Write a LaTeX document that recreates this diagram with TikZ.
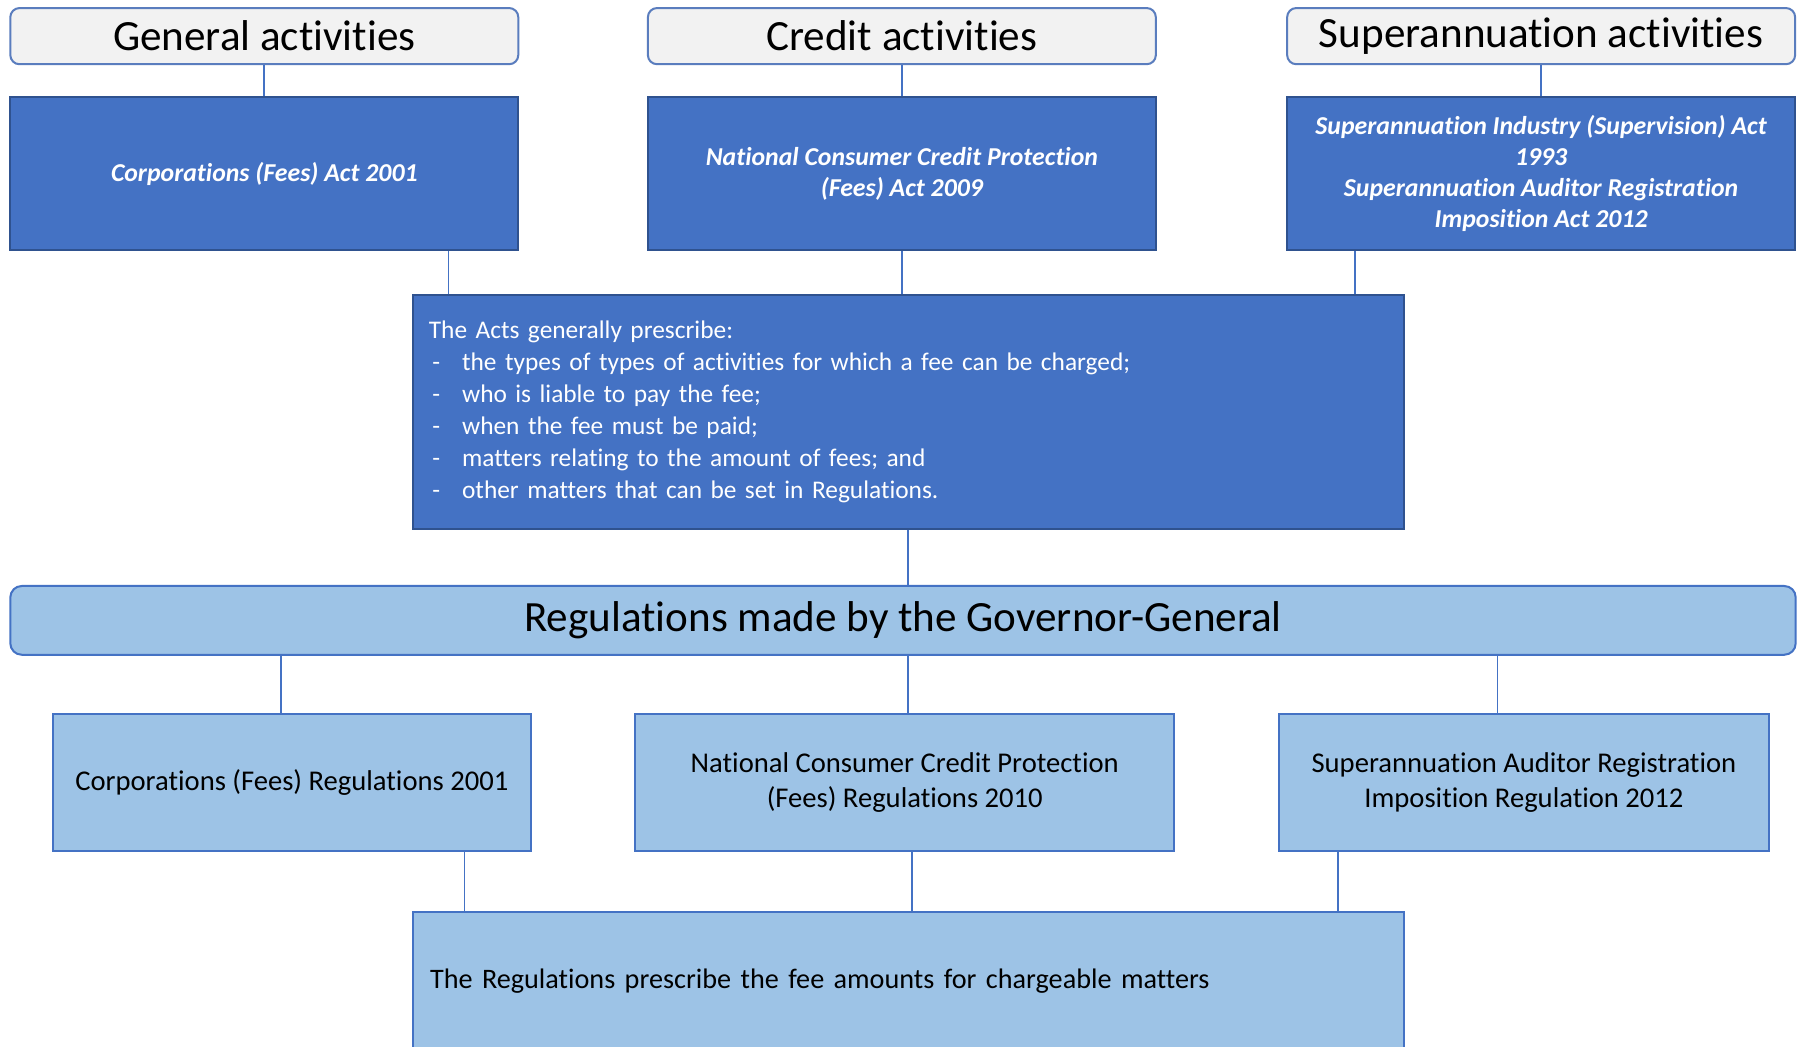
\documentclass[tikz,border=0pt]{standalone}
\usepackage{fontspec}
\setmainfont{Carlito}[RawFeature={-liga;-clig;-calt;-dlig}]

\definecolor{hdrfill}{HTML}{F2F2F2}
\definecolor{hdrline}{HTML}{5A7DBE}
\definecolor{actfill}{HTML}{4472C4}
\definecolor{actline}{HTML}{2F528F}
\definecolor{regfill}{HTML}{9DC3E6}
\definecolor{regline}{HTML}{4472C4}

\begin{document}
\begin{tikzpicture}[
    x=0.1mm, y=-0.1mm,
    hdr/.style={draw=hdrline, fill=hdrfill, rounded corners=0.8mm, line width=0.5pt,
                minimum width=44.3mm, minimum height=4.9mm, inner sep=0pt,
                font=\fontsize{10.7}{13}\selectfont},
    act/.style={draw=actline, fill=actfill, line width=0.5pt, text=white, align=center,
                minimum width=44.3mm, minimum height=13.3mm, inner sep=0pt,
                font=\fontsize{6.4}{7.7}\selectfont\bfseries\itshape},
    sumry/.style={draw=actline, fill=actfill, line width=0.5pt, text=white, align=left,
                  minimum width=86.4mm, minimum height=20.4mm, inner xsep=1.4mm,
                  text width=83.6mm, font=\fontsize{6.3}{7.94}\selectfont},
    band/.style={draw=regline, fill=regfill, rounded corners=1mm, line width=0.5pt,
                 minimum width=155.7mm, minimum height=6mm, inner sep=0pt,
                 font=\fontsize{10.7}{13}\selectfont},
    reg/.style={draw=regline, fill=regfill, line width=0.5pt, align=center,
                minimum height=11.9mm, inner sep=0pt,
                font=\fontsize{7.1}{8.8}\selectfont},
    link/.style={regline, line width=0.45pt},
  ]
  \useasboundingbox[fill=white] (0,0) rectangle (1568,913);

  %% ---- activity headers -------------------------------------------
  \node[hdr] (genhd) at ( 230.5,31.5) {General activities};
  \node[hdr] (crdhd) at ( 786.5,31.5) {Credit activities};
  \node[hdr] (suphd) at (1344.0,31.5) {Superannuation activities};

  %% ---- the Acts ----------------------------------------------------
  \node[act] (corpact) at ( 230.5,151.5) {Corporations (Fees) Act 2001};
  \node[act] (ncact)   at ( 786.5,151.5)
  {National Consumer Credit Protection\\(Fees) Act 2009};
  \node[act] (supact)  at (1344.0,151.5)
  {Superannuation Industry (Supervision) Act\\1993\\Superannuation Auditor Registration\\Imposition Act 2012};

  \draw[link] (genhd) -- (corpact);
  \draw[link] (crdhd) -- (ncact);
  \draw[link] (suphd) -- (supact);

  %% ---- what the Acts prescribe ---------------------------------------
  \node[sumry] (acts) at (792,359)
  {The Acts generally prescribe:\\
   \makebox[2.9mm][l]{\hspace{0.3mm}-}the types of types of activities for which a fee can be charged;\\
   \makebox[2.9mm][l]{\hspace{0.3mm}-}who is liable to pay the fee;\\
   \makebox[2.9mm][l]{\hspace{0.3mm}-}when the fee must be paid;\\
   \makebox[2.9mm][l]{\hspace{0.3mm}-}matters relating to the amount of fees; and\\
   \makebox[2.9mm][l]{\hspace{0.3mm}-}other matters that can be set in Regulations.};

  \coordinate (j1) at ([xshift=3.2mm]acts.north west);
  \coordinate (j3) at ([xshift=-4.3mm]acts.north east);
  \draw[link] (j1 |- corpact.south) -- (j1);
  \draw[link] (ncact.south) -- (ncact.south |- acts.north);
  \draw[link] (j3 |- supact.south) -- (j3);

  %% ---- Governor-General band ----------------------------------------
  \node[band] (regs) at (787.5,541) {Regulations made by the Governor-General};
  \draw[link] (acts.south) -- (acts.south |- regs.north);

  %% ---- the Regulations ------------------------------------------------
  \node[reg, minimum width=41.7mm] (corpreg) at ( 254.5,682.5)
  {Corporations (Fees) Regulations 2001};
  \node[reg, minimum width=47mm]   (ncreg)   at ( 789.0,682.5)
  {National Consumer Credit Protection\\(Fees) Regulations 2010};
  \node[reg, minimum width=42.8mm] (supreg)  at (1329.0,682.5)
  {Superannuation Auditor Registration\\Imposition Regulation 2012};

  \coordinate (k1) at ([xshift=-0.95mm]corpreg.north);
  \coordinate (k2) at ([xshift=0.3mm]ncreg.north);
  \coordinate (k3) at ([xshift=-2.3mm]supreg.north);
  \draw[link] (k1 |- regs.south) -- (k1);
  \draw[link] (k2 |- regs.south) -- (k2);
  \draw[link] (k3 |- regs.south) -- (k3);

  %% ---- fee amounts ----------------------------------------------------
  \node[reg, align=left, minimum width=86.4mm, minimum height=12.2mm,
        inner xsep=1.5mm, text width=83.4mm, font=\fontsize{7}{8.8}\selectfont]
        (fees) at (792,856)
  {The Regulations prescribe the fee amounts for chargeable matters};

  \coordinate (m1) at ([xshift=4.6mm]fees.north west);
  \coordinate (m2) at ([xshift=0.3mm]fees.north);
  \coordinate (m3) at ([xshift=-5.8mm]fees.north east);
  \draw[link] (m1 |- corpreg.south) -- (m1);
  \draw[link] (m2 |- ncreg.south) -- (m2);
  \draw[link] (m3 |- supreg.south) -- (m3);

\end{tikzpicture}
\end{document}
